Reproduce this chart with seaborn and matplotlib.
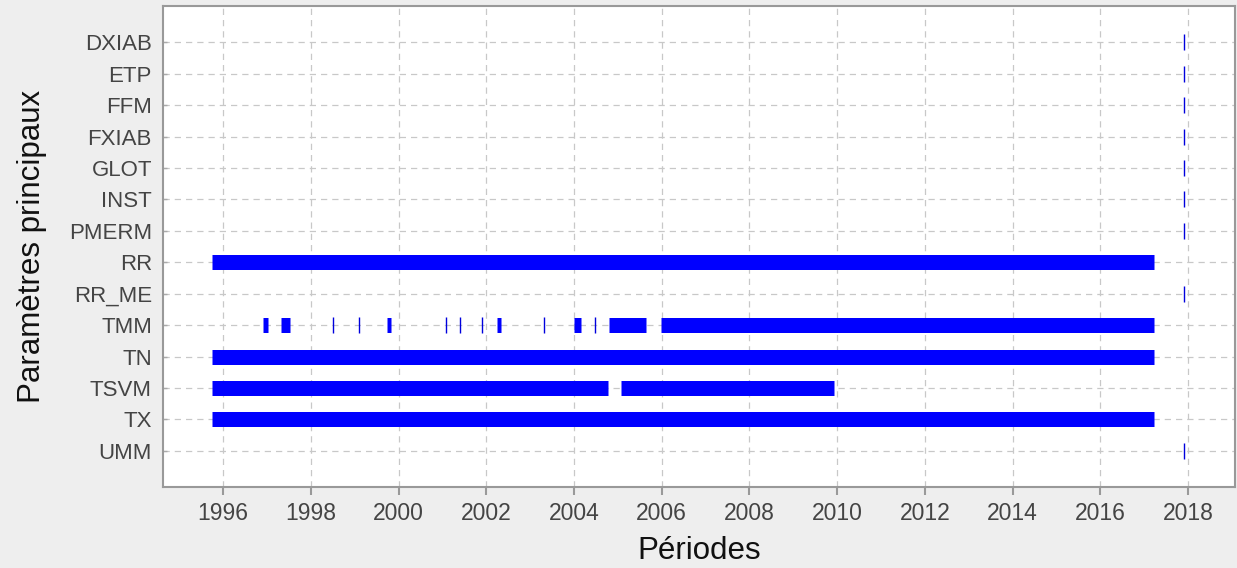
import matplotlib
matplotlib.use("Agg")
import matplotlib.pyplot as plt
import seaborn as sns
import pandas as pd

# ---- data ----
params = ["DXIAB", "ETP", "FFM", "FXIAB", "GLOT", "INST", "PMERM",
          "RR", "RR_ME", "TMM", "TN", "TSVM", "TX", "UMM"]

# periods with data (start, end in decimal years)
seg_param = ["RR", "TN", "TX", "TSVM", "TSVM",
             "TMM", "TMM", "TMM", "TMM", "TMM", "TMM", "TMM"]
seg_start = [1995.75, 1995.75, 1995.75, 1995.75, 2005.07,
             1996.92, 1997.33, 1999.74, 2002.24, 2004.00, 2004.81, 2005.99]
seg_end = [2017.23, 2017.23, 2017.23, 2004.77, 2009.92,
           1997.02, 1997.52, 1999.83, 2002.33, 2004.17, 2005.65, 2017.23]

# isolated single dates
pt_param = ["DXIAB", "ETP", "FFM", "FXIAB", "GLOT", "INST", "PMERM", "RR_ME", "UMM",
            "TMM", "TMM", "TMM", "TMM", "TMM", "TMM", "TMM"]
pt_date = [2017.92] * 9 + [1998.51, 1999.10, 2001.09, 2001.41, 2001.91, 2003.32, 2004.48]

xticks = list(range(1996, 2019, 2))

# ---- style ----
sns.set_theme(style="whitegrid", rc={
    "grid.linestyle": (0, (5, 4)),
    "grid.color": "#c8c8c8",
    "grid.linewidth": 0.9,
    "axes.edgecolor": "#999999",
    "axes.linewidth": 1.5,
    "figure.facecolor": "#eeeeee",
    "axes.facecolor": "white",
})
plt.rcParams["font.family"] = ["Liberation Sans", "DejaVu Sans"]

fig = plt.figure(figsize=(12.37, 5.68), dpi=100)
ax = fig.add_axes([0.1318, 0.1426, 0.8665, 0.8465])

ypos = {p: i for i, p in enumerate(params)}

segs = pd.DataFrame({"param": seg_param, "start": seg_start, "end": seg_end})
segs["y"] = segs["param"].map(ypos)
ax.hlines(segs["y"], segs["start"], segs["end"], color="#0000ff",
          linewidth=10.8, capstyle="butt", zorder=3)

pts = pd.DataFrame({"param": pt_param, "date": pt_date})
pts["y"] = pts["param"].map(ypos)
sns.scatterplot(data=pts, x="date", y="y", marker="|", s=120,
                color="#0000dd", linewidth=1.0, ax=ax, zorder=4, legend=False)

ax.set_yticks(range(len(params)))
ax.set_yticklabels(params)
ax.set_ylim(len(params) - 1 + 1.15, -1.15)
ax.set_xlim(1994.63, 2019.07)
ax.set_xticks(xticks)
ax.set_xticklabels([str(t) for t in xticks])

ax.tick_params(axis="y", length=3, width=1, color="#aaaaaa", direction="in",
               left=True, labelsize=16, labelcolor="#444444", pad=8)
ax.tick_params(axis="x", length=6, width=1.5, color="#999999", direction="out",
               labelsize=16.5, labelcolor="#444444", pad=5, bottom=True)

ax.set_xlabel("Périodes", fontsize=22.5, color="#111111", labelpad=8)
ax.set_ylabel("Paramètres principaux", fontsize=22.5, color="#111111", labelpad=16)

for s in ax.spines.values():
    s.set_visible(True)
    s.set_color("#999999")
    s.set_linewidth(1.5)
ax.set_axisbelow(True)

fig.savefig("out.png", dpi=100, facecolor=fig.get_facecolor())
